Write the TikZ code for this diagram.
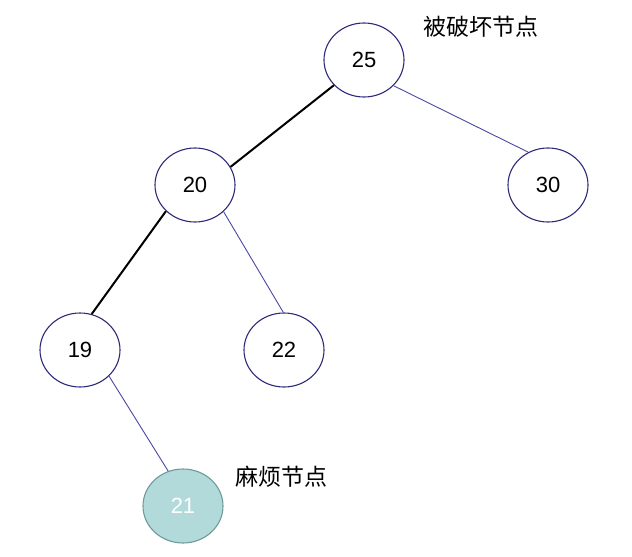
\documentclass[tikz,border=0pt]{standalone}
\usepackage{fontspec}
\setmainfont{Liberation Sans}
\newfontfamily\cjk{Noto Sans CJK SC}
\usetikzlibrary{shapes.geometric}
\definecolor{navy}{HTML}{2E2A7A}
\definecolor{edgeblue}{HTML}{4A48A0}
\definecolor{tealfill}{HTML}{B2DADB}
\definecolor{tealline}{HTML}{6E9A9A}
\tikzset{
  tnode/.style={ellipse, draw=navy, line width=1.1pt, fill=white, minimum width=80pt, minimum height=74pt, inner sep=0pt, font=\fontsize{22}{25}\selectfont},
  hotnode/.style={tnode, draw=tealline, fill=tealfill, text=white},
  boldedge/.style={draw=black, line width=2pt},
  thinedge/.style={draw=edgeblue, line width=0.9pt},
  note/.style={font=\cjk\fontsize{23}{26}\selectfont, inner sep=0pt}
}
\begin{document}
\begin{tikzpicture}[x=1pt,y=-1pt]
\useasboundingbox (0,0) rectangle (632,557);
\node[tnode] (n25) at (364,60) {25};
\node[tnode] (n20) at (195,185) {20};
\node[tnode] (n30) at (548,185) {30};
\node[tnode] (n19) at (80,350) {19};
\node[tnode] (n22) at (284,350) {22};
\node[hotnode] (n21) at (183,506) {21};
\draw[boldedge] (n25.220) -- (n20.27);
\draw[boldedge] (n20.222) -- (n19.72);
\draw[thinedge] (n25.-41) -- (n30.121);
\draw[thinedge] (n20.-43) -- (n22.91);
\draw[thinedge] (n19.-42) -- (n21.113);
\node[note] (l1) at (481,27) {被破坏节点};
\node[note] (l2) at (281,477) {麻烦节点};
\end{tikzpicture}
\end{document}
